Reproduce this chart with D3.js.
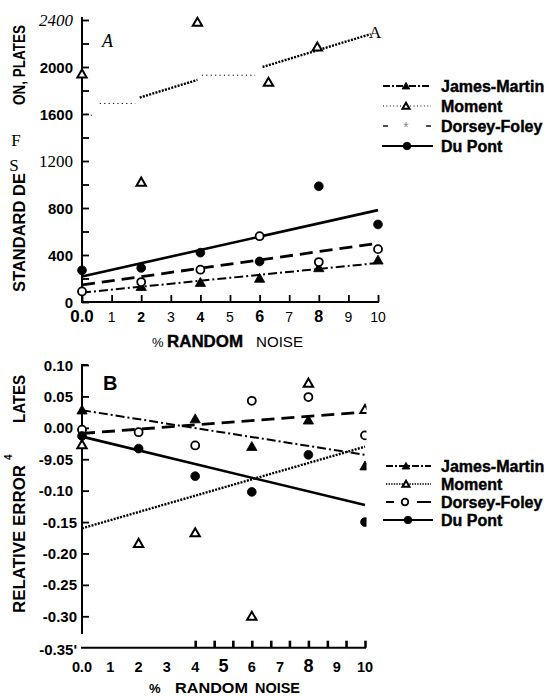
<!DOCTYPE html>
<html>
<head>
<meta charset="utf-8">
<script src="https://cdn.jsdelivr.net/npm/d3@7/dist/d3.min.js"></script>
<style>
  body { margin: 0; background: #fff; }
  svg { display: block; }
</style>
</head>
<body>
<svg id="chart" width="553" height="696"></svg>
<script>
// ---------------- data ----------------
const noise = [0, 2, 4, 6, 8, 10];

// Panel A — standard deviation, plates
const sdJamesMartin = [null, 130, 165, 200, 290, 355];
const sdMomentX = [0, 2, 3.9, 6.3, 7.95, 9.9];
const sdMoment = [1940, 1020, 2380, 1870, 2170, 2300];
const sdDorseyFoley = [90, 170, 275, 560, 340, 450];
const sdDuPont = [270, 290, 420, 345, 985, 660];
// fitted lines: value at 0 % and at 10 % noise
const sdFitJamesMartin = [80, 332];
const sdFitDorseyFoley = [145, 500];
const sdFitDuPont = [217, 782];
// the Moment fit is printed in broken pieces [x0, y0, x1, y1]
const sdMomentHeavyPieces = [[1.95, 1740, 3.9, 1890], [6.1, 2000, 9.75, 2280]];
const sdMomentFinePieces = [[0.15, 1600, 0.4, 1585], [0.6, 1690, 1.8, 1690], [4.05, 1930, 5.85, 1930]];

// Panel B — relative error, plates
const reJamesMartin = [0.028, null, 0.014, -0.030, 0.012, -0.061];
const reMoment = [-0.027, -0.184, -0.167, -0.300, 0.071, 0.029];
const reDorseyFoley = [-0.003, -0.007, -0.028, 0.043, 0.049, -0.012];
const reDuPont = [-0.013, -0.033, -0.077, -0.102, -0.043, -0.150];
const reFitJamesMartin = [0.028, -0.043];
const reFitMoment = [-0.160, -0.030];
const reFitDorseyFoley = [-0.009, 0.025];
const reFitDuPont = [-0.014, -0.123];

// ticks
const xTickLabels = ["0.0", "1", "2", "3", "4", "5", "6", "7", "8", "9", "10"];
const sdTickValues = d3.range(0, 2401, 200);
const sdTickLabels = ["0", "400", "800", "1200", "1600", "2000", "2400"];
const reTickValues = [-0.30, -0.25, -0.20, -0.15, -0.10, -0.05, 0, 0.05, 0.10];
const reTickLabels = ["-0.30", "-0.25", "-0.20", "-0.15", "-0.10", "-9.05", "0.00", "0.05", "0.10"];
const reAxisMinLabel = "-0.35'";
const reXTickValues = [4, 4.67, 5.33, 6, 6.67, 7.33, 8, 8.67, 9.33, 10];

const seriesNames = ["James-Martin", "Moment", "Dorsey-Foley", "Du Pont"];

// ---------------- setup ----------------
const SANS = "'Liberation Sans', Arial, Helvetica, sans-serif";
const SERIF = "'Liberation Serif', 'Times New Roman', serif";
const INK = "#000";

const svg = d3.select("#chart");
svg.append("rect").attr("width", 553).attr("height", 696).attr("fill", "#fff");

const xA = d3.scaleLinear().domain([0, 10]).range([82, 378]);
const yA = d3.scaleLinear().domain([0, 2400]).range([302, 20]);
const xB = d3.scaleLinear().domain([0, 10]).range([82, 365]);
const yB = d3.scaleLinear().domain([-0.35, 0.10]).range([647.7, 365]);

const dash = {
  jm: "9,3,2,3",
  mHeavy: "2,1.3",
  mFine: "1.2,3.2",
  df: "13,7",
};

function fitLine(g, x, y, ends, dasharray, w) {
  g.append("line")
    .attr("x1", x(0)).attr("y1", y(ends[0]))
    .attr("x2", x(10)).attr("y2", y(ends[1]))
    .attr("stroke", INK)
    .attr("stroke-width", w)
    .attr("stroke-dasharray", dasharray || null);
}

function tri(g, cx, cy, size, filled) {
  g.append("path")
    .attr("d", d3.symbol(d3.symbolTriangle, size)())
    .attr("transform", `translate(${cx},${cy + 0.8})`)
    .attr("fill", filled ? INK : "#fff")
    .attr("stroke", INK)
    .attr("stroke-width", filled ? 0.8 : 2);
}

function dot(g, cx, cy, r, filled) {
  g.append("circle")
    .attr("cx", cx).attr("cy", cy).attr("r", r)
    .attr("fill", filled ? INK : "#fff")
    .attr("stroke", INK)
    .attr("stroke-width", filled ? 0.8 : 1.8);
}

function points(g, xs, vals, x, y, kind) {
  vals.forEach((v, i) => {
    if (v === null) return;
    const cx = x(xs[i]), cy = y(v);
    if (kind === "triFill") tri(g, cx, cy, 46, true);
    if (kind === "triOpen") tri(g, cx, cy, 38, false);
    if (kind === "dotFill") dot(g, cx, cy, 4.4, true);
    if (kind === "dotOpen") dot(g, cx, cy, 4, false);
  });
}

function txt(g, x, y, s, o = {}) {
  return g.append("text")
    .attr("x", x).attr("y", y)
    .attr("font-family", o.family || SANS)
    .attr("font-size", o.size || 14)
    .attr("font-weight", o.weight || "bold")
    .attr("font-style", o.italic ? "italic" : null)
    .attr("text-anchor", o.anchor || "start")
    .attr("fill", o.fill || INK)
    .text(s);
}

// ============== Panel A ==============
const gA = svg.append("g");

// y axis
gA.append("g")
  .attr("transform", `translate(${xA(0)},0)`)
  .call(d3.axisLeft(yA).tickValues(sdTickValues).tickSize(-7).tickFormat(""))
  .call(s => s.select(".domain").attr("stroke-width", 2).attr("d", `M0,${yA(0)}V${yA(2400) - 3}`))
  .call(s => s.selectAll(".tick line").attr("stroke-width", 1.8));

const sdLabelStyle = {
  "1200": { family: SERIF, weight: "normal", size: 17 },
  "2400": { family: SERIF, weight: "normal", size: 17, italic: true },
};
sdTickLabels.forEach(lab => {
  const st = sdLabelStyle[lab] || { size: 15 };
  txt(gA, 73, yA(+lab) + 5.5, lab, Object.assign({ anchor: "end" }, st));
});

// x axis
gA.append("g")
  .attr("transform", `translate(0,${yA(0)})`)
  .call(d3.axisBottom(xA).ticks(10).tickSize(-7).tickFormat(""))
  .call(s => s.select(".domain").attr("stroke-width", 2).attr("d", `M${xA(0) - 1},0H${xA(10) + 1}`))
  .call(s => s.selectAll(".tick line").attr("stroke-width", 1.8));

const xTopStyle = {
  "0.0": { size: 17 },
  "6": { size: 16 },
  "8": { size: 16 },
  "4": { size: 14 },
  "2": { size: 14 },
};
xTickLabels.forEach((lab, i) => {
  const st = xTopStyle[lab] || { size: 14, weight: "normal" };
  txt(gA, xA(i), 322, lab, Object.assign({ anchor: "middle" }, st));
});

// axis title x
txt(gA, 152, 347, "%", { size: 13, weight: "normal" });
txt(gA, 167, 347, "RANDOM", { size: 16.5 }).attr("textLength", 76).attr("lengthAdjust", "spacingAndGlyphs")
  .attr("stroke", INK).attr("stroke-width", 0.4);
txt(gA, 256, 347, "NOISE", { size: 15, weight: "normal" }).attr("textLength", 47).attr("lengthAdjust", "spacingAndGlyphs");

// axis title y (scanned with gaps)
txt(gA, 0, 0, "STANDARD DE", { size: 16 })
  .attr("transform", "translate(25,292) rotate(-90)")
  .attr("textLength", 119).attr("lengthAdjust", "spacingAndGlyphs");
txt(gA, 0, 0, "ON, PLATES", { size: 16 })
  .attr("transform", "translate(25,105) rotate(-90)")
  .attr("textLength", 80).attr("lengthAdjust", "spacingAndGlyphs");
txt(gA, 16, 146, "F", { family: SERIF, weight: "normal", size: 17, anchor: "middle" });
txt(gA, 14, 171, "S", { family: SERIF, weight: "normal", size: 17, anchor: "middle" });

// panel letter
txt(gA, 102, 47, "A", { family: SERIF, weight: "normal", size: 18, italic: true });

// fitted lines
fitLine(gA, xA, yA, sdFitJamesMartin, dash.jm, 2);
fitLine(gA, xA, yA, sdFitDorseyFoley, dash.df, 2.8);
fitLine(gA, xA, yA, sdFitDuPont, null, 2.6);
sdMomentHeavyPieces.forEach(p => {
  gA.append("line")
    .attr("x1", xA(p[0])).attr("y1", yA(p[1]))
    .attr("x2", xA(p[2])).attr("y2", yA(p[3]))
    .attr("stroke", INK).attr("stroke-width", 2.4).attr("stroke-dasharray", dash.mHeavy);
});
sdMomentFinePieces.forEach(p => {
  gA.append("line")
    .attr("x1", xA(p[0])).attr("y1", yA(p[1]))
    .attr("x2", xA(p[2])).attr("y2", yA(p[3]))
    .attr("stroke", INK).attr("stroke-width", 1).attr("stroke-dasharray", dash.mFine);
});

// points
points(gA, noise, sdJamesMartin, xA, yA, "triFill");
points(gA, noise, sdDorseyFoley, xA, yA, "dotOpen");
points(gA, noise, sdDuPont, xA, yA, "dotFill");
// last Moment point came out of the scan as a letter "A"
points(gA, sdMomentX.slice(0, 5), sdMoment.slice(0, 5), xA, yA, "triOpen");
txt(gA, xA(sdMomentX[5]), yA(sdMoment[5]) + 6, "A", { family: SERIF, weight: "normal", size: 17, anchor: "middle" });

// legend A
function legendA(g) {
  const ys = [86, 106, 126, 146];
  const x0 = 383, x1 = 431, xm = 406, xt = 441;
  const l = (y, a, b, da, w) => g.append("line").attr("x1", a).attr("x2", b).attr("y1", y).attr("y2", y)
    .attr("stroke", INK).attr("stroke-width", w).attr("stroke-dasharray", da || null);
  l(ys[0], x0, x1, "7,2,2,2", 2); tri(g, xm, ys[0], 26, true);
  l(ys[1], x0, x1, "1,2.4", 1); tri(g, xm, ys[1], 22, false);
  l(ys[2], x0, x0 + 5, null, 1.4); l(ys[2], x1 - 5, x1, null, 1.4);
  txt(g, xm, ys[2] + 6, "*", { size: 14, weight: "normal", anchor: "middle", fill: "#888" });
  l(ys[3], x0 - 1, x1 + 2, null, 2); dot(g, xm + 1, ys[3], 3.8, true);
  seriesNames.forEach((n, i) => {
    txt(g, xt, ys[i] + 5.5, n, { size: 16 }).attr("stroke", INK).attr("stroke-width", 0.4);
  });
}
legendA(gA);

// ============== Panel B ==============
const gB = svg.append("g");

gB.append("g")
  .attr("transform", `translate(${xB(0)},0)`)
  .call(d3.axisLeft(yB).tickValues(reTickValues).tickSize(-7).tickFormat(""))
  .call(s => s.select(".domain").attr("stroke-width", 2).attr("d", `M0,${yB(-0.328)}V${yB(0.10)}h6`))
  .call(s => s.selectAll(".tick line").attr("stroke-width", 1.8));

reTickValues.forEach((v, i) => {
  txt(gB, v >= -0.1 ? 73 : 77, yB(v) + 5.5, reTickLabels[i], { size: 15, anchor: "end" });
});
txt(gB, 77, yB(-0.35) + 7, reAxisMinLabel, { size: 15, anchor: "end" });

gB.append("g")
  .attr("transform", `translate(0,${yB(-0.35)})`)
  .call(d3.axisBottom(xB).tickValues(reXTickValues).tickSize(-7).tickFormat(""))
  .call(s => s.select(".domain").attr("stroke-width", 2).attr("d", `M${xB(0) - 1},0H${xB(10) + 1}`))
  .call(s => s.selectAll(".tick line").attr("stroke-width", 2.6));

const xBotStyle = { "5": { size: 18 }, "8": { size: 18 } };
xTickLabels.forEach((lab, i) => {
  const st = xBotStyle[lab] || { size: 14.5 };
  txt(gB, xB(i), 672, lab, Object.assign({ anchor: "middle" }, st));
});

txt(gB, 149, 693, "%", { size: 13 });
txt(gB, 175, 693, "RANDOM", { size: 15 }).attr("textLength", 73).attr("lengthAdjust", "spacingAndGlyphs");
txt(gB, 255, 693, "NOISE", { size: 15 }).attr("textLength", 45).attr("lengthAdjust", "spacingAndGlyphs");

txt(gB, 0, 0, "RELATIVE ERROR", { size: 16 })
  .attr("transform", "translate(25,613) rotate(-90)")
  .attr("textLength", 148).attr("lengthAdjust", "spacingAndGlyphs");
txt(gB, 0, 0, "4", { size: 10 })
  .attr("transform", "translate(12,460) rotate(-90)");
txt(gB, 0, 0, "LATES", { size: 16 })
  .attr("transform", "translate(25,423) rotate(-90)")
  .attr("textLength", 48).attr("lengthAdjust", "spacingAndGlyphs");

txt(gB, 103, 390, "B", { size: 20 });

// plot marks clipped at the right frame
svg.append("clipPath").attr("id", "clipB")
  .append("rect").attr("x", 0).attr("y", 340).attr("width", xB(10) + 1.5).attr("height", 320);
const gBm = gB.append("g").attr("clip-path", "url(#clipB)");

fitLine(gBm, xB, yB, reFitJamesMartin, dash.jm, 2);
fitLine(gBm, xB, yB, reFitDorseyFoley, dash.df, 2.8);
fitLine(gBm, xB, yB, reFitDuPont, null, 2.6);
fitLine(gBm, xB, yB, reFitMoment, dash.mHeavy, 2.4);

points(gBm, noise, reJamesMartin, xB, yB, "triFill");
points(gBm, noise, reDorseyFoley, xB, yB, "dotOpen");
points(gBm, noise, reDuPont, xB, yB, "dotFill");
points(gBm, noise, reMoment, xB, yB, "triOpen");

function legendB(g) {
  const ys = [466, 484, 502, 520];
  const x0 = 386, x1 = 431, xm = 406, xt = 441;
  const l = (y, a, b, da, w) => g.append("line").attr("x1", a).attr("x2", b).attr("y1", y).attr("y2", y)
    .attr("stroke", INK).attr("stroke-width", w).attr("stroke-dasharray", da || null);
  l(ys[0], x0, x1, "7,2,2,2", 2); tri(g, xm, ys[0], 26, true);
  l(ys[1], x0, x1, "1.4,1.2", 1.6); tri(g, xm, ys[1], 22, false);
  l(ys[2], x0, x0 + 8, null, 2); l(ys[2], x1 - 14, x1, null, 2);
  dot(g, xm - 1, ys[2], 3.3, false);
  l(ys[3], x0 - 3, x1 + 2, null, 2); dot(g, xm + 2, ys[3], 3.8, true);
  seriesNames.forEach((n, i) => {
    txt(g, xt, ys[i] + 5.5, n, { size: 16 }).attr("stroke", INK).attr("stroke-width", 0.4);
  });
}
legendB(gB);
</script>
</body>
</html>
